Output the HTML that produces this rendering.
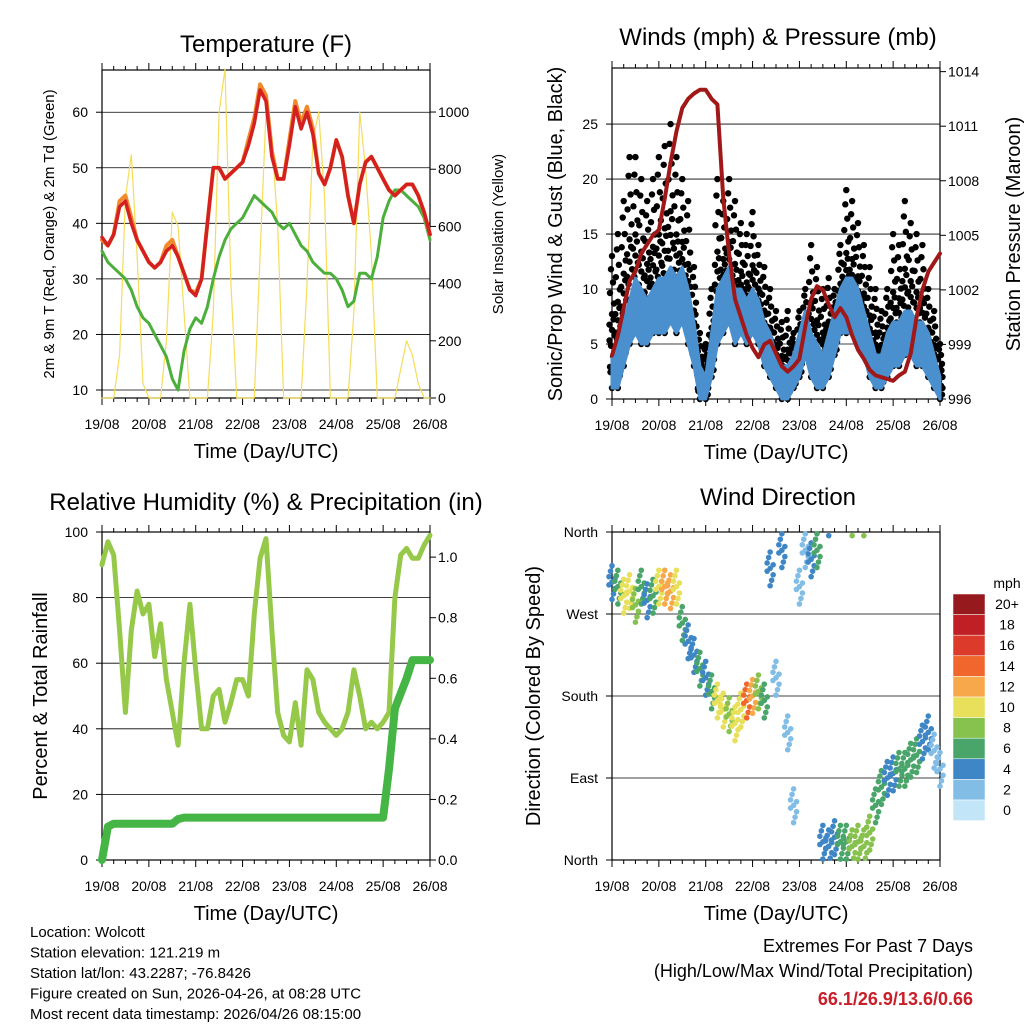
<!DOCTYPE html>
<html><head><meta charset="utf-8"><style>
body{margin:0;background:#fff;width:1024px;height:1024px;overflow:hidden;font-family:"Liberation Sans",sans-serif}
svg{position:absolute;left:0;top:0}
text{font-family:"Liberation Sans",sans-serif;fill:#000}
</style></head><body>
<svg id="s" width="1024" height="1024"></svg>
<script>
// ---- shared time axis: 3-hourly samples 19/08 00 UTC .. 26/08 00 UTC
const dayLabels=["19/08","20/08","21/08","22/08","23/08","24/08","25/08","26/08"];
// Temperature panel
const tempRed=[37.5,36,38,43,44,40,37,35,33,32,33,35,36,34,31,28,27,30,40,50,50,48,49,50,51,54,58,64,62,52,48,48,54,61,57,60,56,49,47,50,55,52,45,40,47,51,52,50,48,46,45,46,47,47,45,42,38];
const tempOrange=[37,36,38,44,45,41,37,35,33,32,33,36,37,34,31,28,27.5,30,40,50,50,48,49,50,51,55,59,65,63,53,48,48,55,62,58,61,57,49,47,50,55,52,45,40,47,51,52,50,48,46,45,46,47,47,45,42,38];
const dewGreen=[35,33,32,31,30,28,25,23,22,20,18,16,12,10,17,21,23,22,25,30,34,37,39,40,41,43,45,44,43,42,40,39,40,38,36,35,33,32,31,31,30,28,25,26,31,31,30,34,41,44,46,46,45,44,43,41,37];
const solar=[0,0,0,150,700,850,500,50,0,0,0,200,650,600,300,0,0,0,0,300,1000,1150,400,0,0,0,0,500,1000,900,600,0,0,0,0,400,900,1000,700,0,0,0,0,300,1000,800,500,0,0,0,0,100,200,150,50,0,0];
const tempTicks=[10,20,30,40,50,60];
const solarTicks=[0,200,400,600,800,1000];
// Wind panel
const pressure=[998.4,999.5,1001,1002.5,1003,1004,1004.5,1005,1005.3,1007,1009,1010.7,1012,1012.5,1012.8,1013,1013,1012.5,1012.2,1007,1004,1001.5,1000.5,999.5,998.8,998.3,999,999.2,998.5,997.8,997.5,997.8,998.2,1000,1001.5,1002.2,1002,1001.2,1000.5,1001,1000.5,999.5,998.7,998.2,997.6,997.3,997.2,997.1,997,997.3,997.5,998.5,1000.5,1002,1003,1003.5,1004];
const gustHigh=[13,15,18,22,22,20,18,20,22,23,25,22,20,18,12,6,5,10,20,18,20,18,16,15,17,14,12,10,8,7,8,6,8,10,14,12,10,11,10,14,19,18,16,14,12,10,8,10,15,14,18,16,15,14,10,8,5];
const windHigh=[4,5,7,9,11,10,9,10,11,11,12,11,12,10,7,3,2,6,10,11,12,10,10,9,10,9,7,6,4,3,3,4,6,8,6,5,4,6,8,10,11,11,10,8,6,4,4,6,7,7,8,8,7,7,6,4,2];
const windLow=[1,1,3,5,6,5,5,6,6,6,7,6,7,5,3,0,0,2,5,6,7,5,6,5,6,5,3,2,1,0,0,1,2,4,2,1,1,2,4,6,6,6,5,4,2,1,1,2,3,3,4,4,3,3,2,1,0];
const windTicks=[0,5,10,15,20,25];
const presTicks=[996,999,1002,1005,1008,1011,1014];
// RH panel
const rh=[90,97,93,70,45,70,82,75,78,62,72,55,45,35,60,78,58,40,40,50,52,42,48,55,55,50,75,92,98,70,45,38,36,48,35,58,55,45,42,40,38,40,45,58,50,40,42,40,42,45,80,93,95,92,92,96,99];
const precip=[0,0.11,0.12,0.12,0.12,0.12,0.12,0.12,0.12,0.12,0.12,0.12,0.12,0.135,0.14,0.14,0.14,0.14,0.14,0.14,0.14,0.14,0.14,0.14,0.14,0.14,0.14,0.14,0.14,0.14,0.14,0.14,0.14,0.14,0.14,0.14,0.14,0.14,0.14,0.14,0.14,0.14,0.14,0.14,0.14,0.14,0.14,0.14,0.14,0.3,0.5,0.55,0.6,0.66,0.66,0.66,0.66];
const rhTicks=[0,20,40,60,80,100];
const prTicks=[0,0.2,0.4,0.6,0.8,1.0];
// Wind direction panel
const wdir=[305,300,290,295,280,300,285,290,300,300,295,300,260,240,225,210,200,185,175,165,160,150,165,175,180,185,175,320,200,340,140,60,300,340,330,340,20,15,25,20,20,15,20,15,30,60,80,90,95,100,100,110,115,130,140,120,100];
const wspd=[3,5,9,10,8,6,4,6,10,11,12,9,6,4,3,5,4,5,9,10,8,9,10,13,12,8,5,3,2,3,2,1,1,2,3,6,4,3,3,5,6,7,8,7,8,6,5,4,4,5,6,6,5,4,3,2,1];
const dirTicks=["North","East","South","West","North"];
const speedLabels=["20+","18","16","14","12","10","8","6","4","2","0"];
const speedColors=["#961a1d","#c11f26","#dc3a2a","#f0662c","#f7a84a","#e8e05a","#86c24d","#4aa56a","#3f86c6","#82bde6","#c2e6f8"];

const NS="http://www.w3.org/2000/svg";
const S=document.getElementById('s');
function el(tag,a,parent){const e=document.createElementNS(NS,tag);for(const k in a)e.setAttribute(k,a[k]);(parent||S).appendChild(e);return e;}
function txt(x,y,s,size,anchor,rot){const t=el('text',{x:x,y:y,'font-size':size,'text-anchor':anchor||'middle'});if(rot)t.setAttribute('transform','rotate(-90 '+x+' '+y+')');t.textContent=s;return t;}
function colorFor(v){let i=Math.round(v/2);if(i>10)i=10;if(i<0)i=0;return speedColors[10-i];}

function panel(p){
  const g=el('g',{});
  
  
  p.g=g;
  p.X=t=>p.x0+(p.x1-p.x0)*t/56;
  p.YL=v=>p.y1-(v-p.lmin)/(p.lmax-p.lmin)*(p.y1-p.y0);
  p.YR=v=>p.y1-(v-p.rmin)/(p.rmax-p.rmin)*(p.y1-p.y0);
  return p;
}
function frame(p,leftTicks,leftFmt,rightTicks,rightFmt,grid){
  const g=p.g;
  if(grid) leftTicks.forEach(v=>{const y=p.YL(v);const l=el('line',{x1:p.x0,x2:p.x1,y1:y,y2:y,stroke:'#000','stroke-width':0.8},g);});
  const r=el('rect',{x:p.x0,y:p.y0,width:p.x1-p.x0,height:p.y1-p.y0,fill:'none',stroke:'#000','stroke-width':1.2},g);
  
  
  dayLabels.forEach((d,i)=>{const x=p.x0+(p.x1-p.x0)*i/7;
    el('line',{x1:x,x2:x,y1:p.y1,y2:p.y1+7,stroke:'#000'},g);el('line',{x1:x,x2:x,y1:p.y0,y2:p.y0-7,stroke:'#000'},g);
    for(let k=1;k<4&&i<7;k++){const xm=x+(p.x1-p.x0)/7*k/4;el('line',{x1:xm,x2:xm,y1:p.y1,y2:p.y1+4,stroke:'#000'},g);el('line',{x1:xm,x2:xm,y1:p.y0,y2:p.y0-4,stroke:'#000'},g);}
    const t=txt(x,p.y1+31,d,14);
    
    
  });
  leftTicks.forEach((v,i)=>{const y=p.YL(v);el('line',{x1:p.x0,x2:p.x0-6,y1:y,y2:y,stroke:'#000'},g);
    const t=txt(p.x0-14,y+5,leftFmt(v,i),14,'end');
    
    });
  if(rightTicks) rightTicks.forEach(v=>{const y=p.YR(v);el('line',{x1:p.x1,x2:p.x1+6,y1:y,y2:y,stroke:'#000'},g);
    const t=txt(p.x1+8,y+5,rightFmt(v),14,'start');
    
    });
  const xl=txt((p.x0+p.x1)/2,p.y1+60,'Time (Day/UTC)',20);
  
  
}
function line(p,arr,Y,color,w,name){
  const d=arr.map((v,i)=>(i?'L':'M')+p.X(i).toFixed(1)+' '+Y(v).toFixed(1)).join('');
  const e=el('path',{d:d,fill:'none',stroke:color,'stroke-width':w,'stroke-linejoin':'round','stroke-linecap':'round'},p.g);
  
  
  return e;
}
function dots(p,lo,hi,Y,color,r,name){
  // fixed scatter pattern (x offset px, fraction of range); denser towards lower values
  const pat=[[0,0],[2,.08],[-2,.16],[1,.24],[-1,.32],[2.5,.4],[-2.5,.48],[0,.56],[2,.64],[-2,.72],[1,.8],[-1,.9],[0,1],[2.5,.2],[-2.5,.36],[1.5,.52],[-1.5,.12],[0,.44]];
  lo.forEach((l,i)=>{
    pat.forEach(q=>{
      const c=el('circle',{cx:p.X(i)+q[0],cy:Y(l+(hi[i]-l)*q[1]),r:r,fill:color},p.g);
      
      
    });
  });
}
function band(p,lo,hi,Y,color,name){
  let d='M'+hi.map((v,i)=>p.X(i).toFixed(1)+' '+Y(v).toFixed(1)).join('L');
  for(let i=lo.length-1;i>=0;i--)d+='L'+p.X(i).toFixed(1)+' '+Y(lo[i]).toFixed(1);
  const e=el('path',{d:d+'Z',fill:color,stroke:color,'stroke-width':3,'stroke-linejoin':'round'},p.g);
  
  
}

// ---------- Panel 1: Temperature
const P1=panel({name:'temperature-panel',x0:102,x1:430,y0:70,y1:398,lmin:8.56,lmax:67.6,rmin:0,rmax:1147});
frame(P1,tempTicks,v=>v,solarTicks,v=>v,true);
line(P1,solar,P1.YR,'#f5dc5a',1.2,'solar-insolation-line');
line(P1,dewGreen,P1.YL,'#4caf3c',3,'dewpoint-line');
line(P1,tempOrange,P1.YL,'#f08a2c',4,'temp-9m-line');
line(P1,tempRed,P1.YL,'#d42020',3.5,'temp-2m-line');
let t;
t=txt(266,52,'Temperature (F)',24);
t=txt(54,234,'2m & 9m T (Red, Orange) & 2m Td (Green)',15,'middle',true);
t=txt(503,234,'Solar Insolation (Yellow)',15,'middle',true);

// ---------- Panel 2: Winds & pressure
const P2=panel({name:'winds-panel',x0:612,x1:940,y0:68,y1:399,lmin:0,lmax:30.1,rmin:996,rmax:1014.2});
frame(P2,windTicks,v=>v,presTicks,v=>v,true);
dots(P2,windLow,gustHigh,P2.YL,'#000',3.2,'gust-point');
band(P2,windLow,windHigh,P2.YL,'#4a90cf','wind-band');
line(P2,pressure,P2.YR,'#a01818',4,'pressure-line');
t=txt(778,45,'Winds (mph) & Pressure (mb)',24);
t=txt(562,234,'Sonic/Prop Wind & Gust (Blue, Black)',20,'middle',true);
t=txt(1020,234,'Station Pressure (Maroon)',20,'middle',true);

// ---------- Panel 3: RH & precip
const P3=panel({name:'humidity-panel',x0:102,x1:430,y0:532,y1:860,lmin:0,lmax:100,rmin:0,rmax:1.083});
frame(P3,rhTicks,v=>v,prTicks,v=>v.toFixed(1),true);
line(P3,rh,P3.YL,'#96c94a',5,'humidity-line');
line(P3,precip,P3.YR,'#45b545',8,'precip-line');
t=txt(266,510,'Relative Humidity (%) & Precipitation (in)',24);
t=txt(47,696,'Percent & Total Rainfall',20,'middle',true);

// ---------- Panel 4: Wind direction
const P4=panel({name:'wind-direction-panel',x0:612,x1:940,y0:532,y1:860,lmin:0,lmax:360,rmin:0,rmax:1});
frame(P4,[0,90,180,270,360],(v,i)=>dirTicks[i],null,null,true);
const offs=[[0,0],[-2,6],[2,-7],[-1,12],[1,-13],[-2,-3],[2,4],[0,18],[0,-19]];
wdir.forEach((d,i)=>{
  offs.forEach(o=>{
    let dv=d+o[1];if(dv>360)dv-=360;if(dv<0)dv+=360;
    const c=el('circle',{cx:P4.X(i)+o[0]*1.5,cy:P4.YL(dv),r:2.8,fill:colorFor(wspd[i])},P4.g);
    
    
  });
});
t=txt(778,505,'Wind Direction',24);
t=txt(540,696,'Direction (Colored By Speed)',20,'middle',true);
// colorbar
t=txt(1007,588,'mph',14);
speedLabels.forEach((lab,i)=>{
  const r=el('rect',{x:953,y:594+i*20.6,width:32,height:20.6,fill:speedColors[i],stroke:'#fff','stroke-width':0.5});
  
  
  const l=txt(1007,609+i*20.6,lab,14);
  
  
});

// ---------- footer text
const info=["Location: Wolcott","Station elevation: 121.219 m","Station lat/lon: 43.2287; -76.8426","Figure created on Sun, 2026-04-26, at 08:28 UTC","Most recent data timestamp: 2026/04/26 08:15:00"];
info.forEach((s,i)=>{const e=txt(30,937+i*20.5,s,15,'start');});
t=txt(973,952,'Extremes For Past 7 Days',18,'end');
t=txt(973,977,'(High/Low/Max Wind/Total Precipitation)',18,'end');
t=txt(973,1005,'66.1/26.9/13.6/0.66',18,'end');t.setAttribute('font-weight','bold');t.style.fill='#c8202a';
</script>
</body></html>
